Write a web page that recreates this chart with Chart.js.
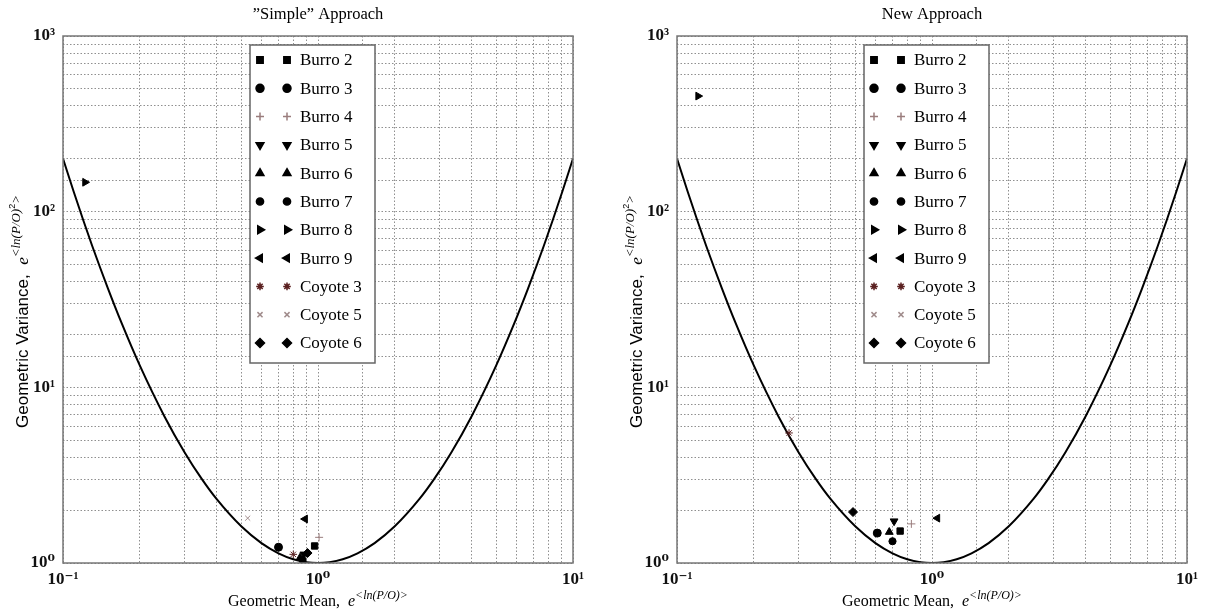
<!DOCTYPE html>
<html>
<head>
<meta charset="utf-8">
<script src="https://cdn.jsdelivr.net/npm/chart.js@4.4.1/dist/chart.umd.min.js"></script>
<style>
body { margin: 0; background: #fff; }
#wrap { position: relative; width: 1205px; height: 612px; }
canvas { position: absolute; top: 0; }
</style>
</head>
<body>
<div id="wrap">
    <canvas id="simpleChart" width="600" height="612" style="left:0"></canvas>
    <canvas id="newChart" width="605" height="612" style="left:600px"></canvas>
</div>
<script>
// series, one point per panel
const seriesNames = ['Burro 2', 'Burro 3', 'Burro 4', 'Burro 5', 'Burro 6', 'Burro 7',
    'Burro 8', 'Burro 9', 'Coyote 3', 'Coyote 5', 'Coyote 6'];
const simpleMean = [0.97, 0.70, 1.01, 0.88, 0.85, 0.87, 0.122, 0.89, 0.80, 0.53, 0.91];
const simpleVar = [1.25, 1.23, 1.40, 1.12, 1.07, 1.04, 147, 1.78, 1.12, 1.80, 1.14];
const newMean = [0.75, 0.61, 0.83, 0.71, 0.68, 0.70, 0.121, 1.05, 0.275, 0.282, 0.49];
const newVar = [1.52, 1.48, 1.67, 1.73, 1.50, 1.33, 455, 1.80, 5.5, 6.6, 1.95];

// bounding curve
const curveX = [0.1, 0.11, 0.12, 0.13, 0.15, 0.17, 0.2, 0.25, 0.3, 0.35, 0.4, 0.5, 0.6, 0.7, 0.8, 0.9, 1,
    1.111, 1.25, 1.429, 1.667, 2, 2.5, 2.857, 3.333, 4, 5, 5.882, 6.667, 7.692, 8.333, 9.091, 10];
const curveY = [200.7, 130.6, 89.6, 64.2, 36.6, 23.1, 13.33, 6.83, 4.26, 3.01, 2.315, 1.617, 1.298, 1.136, 1.051, 1.011, 1,
    1.011, 1.051, 1.136, 1.298, 1.617, 2.315, 3.01, 4.26, 6.83, 13.33, 23.1, 36.6, 64.2, 89.6, 130.6, 200.7];

const decadeLabels = {'-1': '10\u207B\u00B9', '0': '10\u2070', '1': '10\u00B9', '2': '10\u00B2', '3': '10\u00B3'};

const markerStyle = ['rect', 'circle', 'cross', 'triangle', 'triangle', 'circle', 'triangle', 'triangle', 'star', 'crossRot', 'rectRot'];
const markerRotation = [0, 0, 0, 180, 0, 0, 90, 270, 0, 0, 0];
const markerColor = ['#000', '#000', '#9a7d7d', '#000', '#000', '#000', '#000', '#000', '#5a2020', '#a08c8c', '#000'];
const markerRadius = [4.5, 4, 4, 4.5, 4.5, 3.6, 4.5, 4.5, 3.8, 3.6, 4.5];

const SERIF = '"Liberation Serif", "DejaVu Serif", serif';
const SANS = '"Liberation Sans", "DejaVu Sans", sans-serif';

function decadeTick(value) {
    const l = Math.log10(value);
    const r = Math.round(l);
    if (Math.abs(l - r) < 1e-6) return decadeLabels[String(r)];
    return '';
}

function drawRich(ctx, parts, cx, cy) {
    let total = 0;
    for (const p of parts) {
        ctx.font = p.font;
        p.w = ctx.measureText(p.text).width;
        total += p.w;
    }
    let x = cx - total / 2;
    ctx.textAlign = 'left';
    ctx.textBaseline = 'alphabetic';
    for (const p of parts) {
        ctx.font = p.font;
        ctx.fillText(p.text, x, cy + (p.dy || 0));
        x += p.w;
    }
}

function marker(ctx, i, x, y) {
    ctx.fillStyle = markerColor[i];
    ctx.strokeStyle = markerColor[i];
    Chart.helpers.drawPoint(ctx, {
        pointStyle: markerStyle[i],
        radius: markerRadius[i],
        rotation: markerRotation[i],
        borderWidth: 1
    }, x, y);
}

const panelPlugin = {
    id: 'panelText',
    afterDraw(chart, args, opts) {
        const ctx = chart.ctx;
        const a = chart.chartArea;
        ctx.save();
        ctx.fillStyle = '#000';

        // title
        ctx.font = '16.5px ' + SERIF;
        ctx.textAlign = 'center';
        ctx.textBaseline = 'middle';
        ctx.fillText(opts.title, (a.left + a.right) / 2, 15);

        // x title
        drawRich(ctx, [
            {text: 'Geometric Mean,  ', font: '16px ' + SERIF},
            {text: 'e', font: 'italic 16px ' + SERIF},
            {text: '<ln(P/O)>', font: 'italic 12px ' + SERIF, dy: -7}
        ], (a.left + a.right) / 2, 606);

        // y title
        ctx.save();
        ctx.translate(a.left - 41, (a.top + a.bottom) / 2 + 12);
        ctx.rotate(-Math.PI / 2);
        drawRich(ctx, [
            {text: 'Geometric Variance,  ', font: '17px ' + SANS},
            {text: 'e', font: 'italic 17px ' + SERIF},
            {text: '<ln(P/O)', font: 'italic 13px ' + SERIF, dy: -8},
            {text: '2', font: '9px ' + SANS, dy: -13},
            {text: '>', font: 'italic 13px ' + SERIF, dy: -8}
        ], 0, 6);
        ctx.restore();

        // legend
        const bx = a.left + 187, by = 45, bw = 125, bh = 318;
        ctx.fillStyle = '#fff';
        ctx.fillRect(bx, by, bw, bh);
        ctx.strokeStyle = '#666';
        ctx.lineWidth = 1.5;
        ctx.strokeRect(bx, by, bw, bh);
        for (let i = 0; i < seriesNames.length; i++) {
            const ry = by + 15 + i * 28.3;
            marker(ctx, i, bx + 10, ry);
            marker(ctx, i, bx + 37, ry);
            ctx.fillStyle = '#000';
            ctx.font = '17px ' + SERIF;
            ctx.textAlign = 'left';
            ctx.textBaseline = 'middle';
            ctx.fillText(seriesNames[i], bx + 50, ry + 1);
        }

        // frame
        ctx.strokeStyle = '#777';
        ctx.lineWidth = 1.5;
        ctx.strokeRect(a.left, a.top, a.right - a.left, a.bottom - a.top);
        ctx.restore();
    }
};

function makeDatasets(xs, ys) {
    const out = [];
    for (let i = 0; i < seriesNames.length; i++) {
        out.push({
            label: seriesNames[i],
            data: [{x: xs[i], y: ys[i]}],
            pointStyle: markerStyle[i],
            pointRotation: markerRotation[i],
            pointRadius: markerRadius[i],
            backgroundColor: markerColor[i],
            borderColor: markerColor[i],
            borderWidth: 1
        });
    }
    out.push({
        label: 'bound',
        data: curveX.map((x, i) => ({x: x, y: curveY[i]})),
        showLine: true,
        pointRadius: 0,
        borderColor: '#000',
        borderWidth: 2,
        cubicInterpolationMode: 'monotone'
    });
    return out;
}

function makeChart(id, title, xs, ys, axisWidth, padRight) {
    const tickFont = {family: SERIF, size: 17, weight: 'bold'};
    return new Chart(document.getElementById(id), {
        type: 'scatter',
        data: {datasets: makeDatasets(xs, ys)},
        options: {
            responsive: false,
            animation: false,
            layout: {padding: {top: 36, right: padRight, bottom: 0, left: 0}},
            plugins: {
                legend: {display: false},
                tooltip: {enabled: false},
                panelText: {title: title}
            },
            scales: {
                x: {
                    type: 'logarithmic',
                    min: 0.1,
                    max: 10,
                    afterFit: function (s) { s.height = 49; },
                    grid: {color: '#8f8f8f', lineWidth: 1, drawTicks: false},
                    border: {display: false, dash: [1.5, 2]},
                    ticks: {autoSkip: false, maxRotation: 0, padding: 6, color: '#111', font: tickFont, callback: decadeTick}
                },
                y: {
                    type: 'logarithmic',
                    min: 1,
                    max: 1000,
                    afterFit: function (s) { s.width = axisWidth; },
                    grid: {color: '#8f8f8f', lineWidth: 1, drawTicks: false},
                    border: {display: false, dash: [1.5, 2]},
                    ticks: {autoSkip: false, padding: 8, color: '#111', font: tickFont, callback: decadeTick}
                }
            }
        },
        plugins: [panelPlugin]
    });
}

makeChart('simpleChart', '\u201DSimple\u201D Approach', simpleMean, simpleVar, 63, 27);
makeChart('newChart', 'New Approach', newMean, newVar, 77, 18);
</script>
</body>
</html>
